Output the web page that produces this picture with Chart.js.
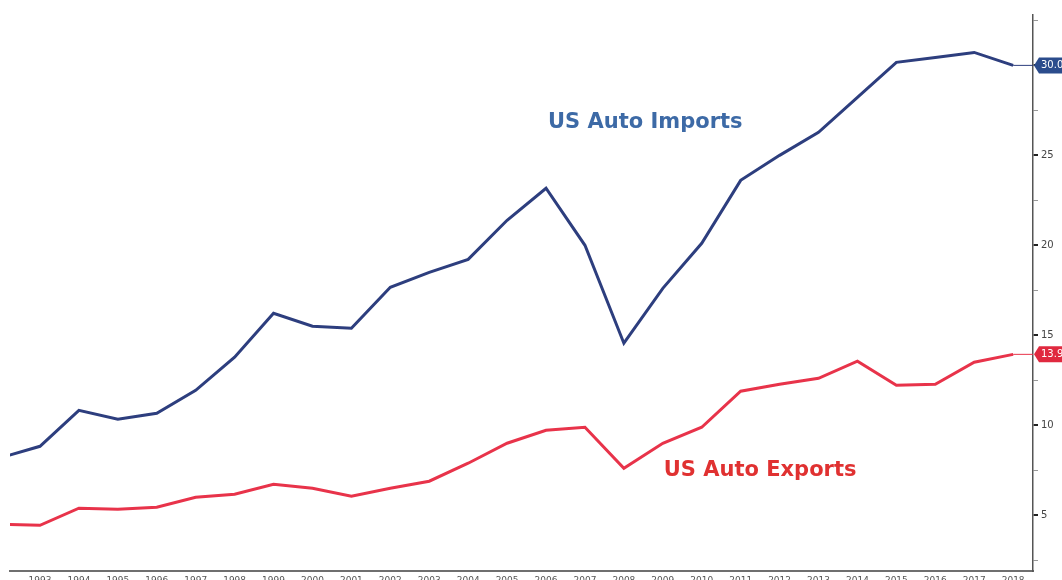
<!DOCTYPE html>
<html>
<head>
<meta charset="utf-8">
<script src="https://cdn.jsdelivr.net/npm/chart.js@4.4.0/dist/chart.umd.min.js"></script>
<style>
  html, body { margin: 0; padding: 0; background: #fff; }
  #wrap { width: 1062px; height: 580px; }
</style>
</head>
<body>
<div id="wrap"><canvas id="autoChart"></canvas></div>
<script>
    // Annual values, billions
    const years = [1992, 1993, 1994, 1995, 1996, 1997, 1998, 1999, 2000, 2001, 2002, 2003, 2004,
                   2005, 2006, 2007, 2008, 2009, 2010, 2011, 2012, 2013, 2014, 2015, 2016, 2017, 2018];
    const autoImports = [8.2, 8.83, 10.83, 10.33, 10.67, 11.94, 13.78, 16.22, 15.5, 15.39, 17.67, 18.5, 19.22,
                         21.39, 23.17, 20.0, 14.56, 17.61, 20.11, 23.61, 25.0, 26.28, 28.22, 30.17, 30.44, 30.72, 30.0];
    const autoExports = [4.5, 4.44, 5.39, 5.33, 5.44, 6.0, 6.17, 6.72, 6.5, 6.06, 6.5, 6.89, 7.89,
                         9.0, 9.72, 9.89, 7.61, 9.0, 9.89, 11.89, 12.28, 12.61, 13.56, 12.22, 12.28, 13.5, 13.94];
    const yearTicks = [1993, 1994, 1995, 1996, 1997, 1998, 1999, 2000, 2001, 2002, 2003, 2004, 2005,
                       2006, 2007, 2008, 2009, 2010, 2011, 2012, 2013, 2014, 2015, 2016, 2017, 2018];
    const valueTicks = [2.5, 5, 7.5, 10, 12.5, 15, 17.5, 20, 22.5, 25, 27.5, 30, 32.5];

    const importColor = '#2d3e7e';
    const exportColor = '#e8334a';

    // text labels inside the plot, placed in data units
    const seriesLabels = {
        id: 'seriesLabels',
        afterDatasetsDraw(chart) {
            const ctx = chart.ctx;
            const x = chart.scales.x, y = chart.scales.y;
            ctx.save();
            ctx.font = 'bold 21px "DejaVu Sans", Verdana, sans-serif';
            ctx.textAlign = 'center';
            ctx.textBaseline = 'middle';
            ctx.fillStyle = '#3d6aa6';
            ctx.fillText('US Auto Imports', x.getPixelForValue(2008.55), y.getPixelForValue(26.8));
            ctx.fillStyle = '#e03131';
            ctx.fillText('US Auto Exports', x.getPixelForValue(2011.5), y.getPixelForValue(7.5));
            ctx.restore();
        }
    };

    // last value tags on the right axis
    const lastValueTags = {
        id: 'lastValueTags',
        afterDatasetsDraw(chart) {
            const ctx = chart.ctx;
            const area = chart.chartArea;
            const xs = chart.scales.x, ys = chart.scales.y;
            const tagColors = ['#2b4c8c', '#e0293f'];
            ctx.save();
            chart.data.datasets.forEach((ds, i) => {
                const last = ds.data[ds.data.length - 1];
                const px = xs.getPixelForValue(last.x);
                const py = ys.getPixelForValue(last.y);
                // flat extension to the axis
                ctx.strokeStyle = ds.borderColor;
                ctx.lineWidth = 1;
                ctx.beginPath();
                ctx.moveTo(px, py);
                ctx.lineTo(area.right, py);
                ctx.stroke();
                // tag
                const left = area.right + 1;
                ctx.fillStyle = tagColors[i];
                ctx.beginPath();
                ctx.moveTo(left, py);
                ctx.lineTo(left + 5, py - 8);
                ctx.lineTo(chart.width + 4, py - 8);
                ctx.lineTo(chart.width + 4, py + 8);
                ctx.lineTo(left + 5, py + 8);
                ctx.closePath();
                ctx.fill();
                ctx.fillStyle = '#fff';
                ctx.font = '10px "DejaVu Sans", sans-serif';
                ctx.textBaseline = 'middle';
                ctx.textAlign = 'left';
                ctx.fillText(last.y.toFixed(1), left + 7, py + 0.5);
            });
            ctx.restore();
        }
    };

    const ctx = document.getElementById('autoChart').getContext('2d');
    const autoChart = new Chart(ctx, {
        type: 'line',
        data: {
            datasets: [
                {
                    label: 'US Auto Imports',
                    data: years.map((yr, i) => ({ x: yr, y: autoImports[i] })),
                    borderColor: importColor,
                    borderWidth: 3,
                    pointRadius: 0,
                    tension: 0,
                    fill: false
                },
                {
                    label: 'US Auto Exports',
                    data: years.map((yr, i) => ({ x: yr, y: autoExports[i] })),
                    borderColor: exportColor,
                    borderWidth: 3,
                    pointRadius: 0,
                    tension: 0,
                    fill: false
                }
            ]
        },
        options: {
            responsive: true,
            maintainAspectRatio: false,
            animation: false,
            layout: { padding: { left: 10, top: 15, right: 0, bottom: 0 } },
            plugins: {
                legend: { display: false },
                tooltip: { enabled: false }
            },
            scales: {
                x: {
                    type: 'linear',
                    min: 1992.23,
                    max: 2018.51,
                    afterBuildTicks: scale => { scale.ticks = yearTicks.map(v => ({ value: v })); },
                    afterFit: scale => { scale.height = 9; },
                    grid: { display: false, drawTicks: false },
                    border: { display: true, color: '#6f6f6f', width: 2 },
                    ticks: {
                        autoSkip: false,
                        maxRotation: 0,
                        padding: 4,
                        color: '#555',
                        font: { family: 'DejaVu Sans', size: 9 },
                        callback: v => String(v)
                    }
                },
                y: {
                    position: 'right',
                    min: 1.9,
                    max: 32.8,
                    afterBuildTicks: scale => { scale.ticks = valueTicks.map(v => ({ value: v })); },
                    afterFit: scale => { scale.width = 29; },
                    grid: {
                        drawOnChartArea: false,
                        drawTicks: true,
                        tickLength: 5,
                        color: c => (c.tick && c.tick.value % 5 === 0) ? '#222' : '#999',
                        lineWidth: c => (c.tick && c.tick.value % 5 === 0) ? 2 : 1
                    },
                    border: { display: true, color: '#555', width: 1.5 },
                    ticks: {
                        padding: 3,
                        color: '#444',
                        font: { family: 'DejaVu Sans', size: 10 },
                        callback: v => (v % 5 === 0 ? String(v) : '')
                    }
                }
            }
        },
        plugins: [seriesLabels, lastValueTags]
    });
</script>
</body>
</html>
